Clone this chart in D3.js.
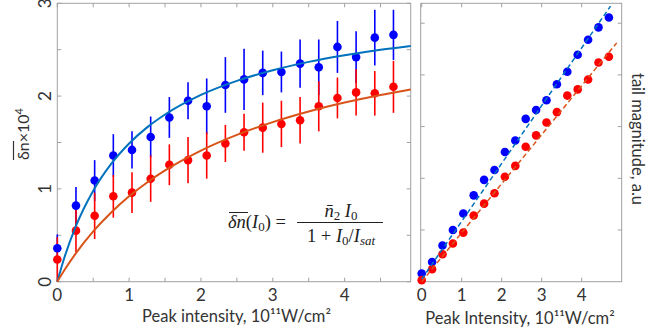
<!DOCTYPE html>
<html><head><meta charset="utf-8">
<script src="https://cdn.jsdelivr.net/npm/d3@7"></script>
<style>body{margin:0;background:#fff}svg{display:block}text{font-family:Lato,"Open Sans",sans-serif;fill:#333}</style>
</head><body><svg id="c" width="670" height="335"></svg>
<script>
// ---- data ----
const intensity = [0,0.26,0.52,0.78,1.04,1.30,1.56,1.82,2.08,2.34,2.60,2.86,3.12,3.38,3.64,3.90,4.16,4.42,4.68];
const blueDn = [0.36,0.82,1.09,1.36,1.42,1.56,1.77,1.95,1.89,2.12,2.18,2.25,2.26,2.35,2.31,2.53,2.42,2.63,2.66];
const blueErr = [0.15,0.20,0.22,0.23,0.20,0.22,0.22,0.20,0.30,0.30,0.33,0.24,0.22,0.26,0.30,0.28,0.28,0.30,0.27];
const redDn = [0.24,0.55,0.71,0.92,0.96,1.11,1.26,1.31,1.36,1.49,1.61,1.66,1.70,1.74,1.89,1.98,2.04,2.03,2.10];
const redErr = [0.24,0.23,0.25,0.23,0.22,0.25,0.22,0.25,0.25,0.20,0.20,0.27,0.25,0.25,0.27,0.22,0.25,0.24,0.28];
const fitX = [0,0.1,0.25,0.5,0.75,1,1.25,1.5,2,2.5,3,3.5,4,4.5,4.92];
const blueFit = [0,0.263,0.583,0.981,1.270,1.490,1.663,1.802,2.013,2.164,2.279,2.369,2.440,2.500,2.541];
const redFit = [0,0.126,0.297,0.542,0.746,0.920,1.069,1.199,1.413,1.582,1.720,1.834,1.930,2.012,2.072];
const blueTail = [0.16,0.38,0.70,1.00,1.32,1.67,1.97,2.16,2.51,2.73,3.15,3.32,3.51,3.82,4.06,4.39,4.68,4.92,5.11];
const redTail = [0.03,0.24,0.53,0.74,0.95,1.28,1.51,1.71,2.03,2.24,2.61,2.83,3.08,3.28,3.60,3.72,3.91,4.24,4.35];
const blueTailLine = [[0,0.05],[4.72,5.33]];
const redTailLine = [[0,0.0],[4.875,4.62]];
const leftXTicks = [0,1,2,3,4];
const leftYTicks = [0,1,2,3];
const rightXTicks = [0,1,2,3,4];

const BLUE = "#0000ff", RED = "#ff0000", BLUEFIT = "#0072bd", REDFIT = "#d95319";
const svg = d3.select("#c");
const FRAME = "#a0a0a0";

function frame(g, x, y, xt, yt) {
  const [x0,x1] = x.range(), [y0,y1] = y.range();
  g.append("rect").attr("x",x0).attr("y",y1).attr("width",x1-x0).attr("height",y0-y1)
   .attr("fill","none").attr("stroke",FRAME).attr("stroke-width",1);
  const L = 4;
  xt.forEach(t => {
    g.append("line").attr("x1",x(t)).attr("x2",x(t)).attr("y1",y0).attr("y2",y0-L).attr("stroke",FRAME);
    g.append("line").attr("x1",x(t)).attr("x2",x(t)).attr("y1",y1).attr("y2",y1+L).attr("stroke",FRAME);
  });
  yt.forEach(t => {
    g.append("line").attr("y1",y(t)).attr("y2",y(t)).attr("x1",x0).attr("x2",x0+L).attr("stroke",FRAME);
    g.append("line").attr("y1",y(t)).attr("y2",y(t)).attr("x1",x1).attr("x2",x1-L).attr("stroke",FRAME);
  });
}

// ---- left panel ----
const xL = d3.scaleLinear().domain([0,4.92]).range([57.3,410.7]);
const yL = d3.scaleLinear().domain([0,3]).range([281.7,3.3]);
const gL = svg.append("g");
frame(gL, xL, yL, d3.range(0,4.9,0.5), d3.range(0,3.01,0.5));

gL.selectAll(".xt").data(leftXTicks).join("text").attr("x",d=>xL(d)).attr("y",301)
  .attr("text-anchor","middle").attr("font-size",17).text(d=>d);
gL.selectAll(".yt").data(leftYTicks).join("text")
  .attr("transform",d=>`translate(51,${yL(d)}) rotate(-90)`)
  .attr("text-anchor","middle").attr("font-size",17).text(d=>d);

gL.append("text").attr("x",236.5).attr("y",322).attr("text-anchor","middle").attr("font-size",16.5)
  .text("Peak intensity, 10¹¹W/cm²");

const yl = gL.append("text").attr("transform","translate(29,134) rotate(-90)").attr("text-anchor","middle").attr("font-size",16);
yl.append("tspan").attr("id","dn").text("δn");
yl.append("tspan").text("×10");
yl.append("tspan").attr("font-size",11).attr("dy",-6).text("4");
gL.append("line").attr("x1",13.5).attr("x2",13.5).attr("y1",141).attr("y2",160).attr("stroke","#333").attr("stroke-width",1.2);

function series(g, x, y, xs, ys, es, col) {
  if (es) g.selectAll(null).data(xs).join("line")
    .attr("x1",(d)=>x(d)).attr("x2",(d)=>x(d))
    .attr("y1",(d,i)=>y(Math.max(0,ys[i]-es[i]))).attr("y2",(d,i)=>y(ys[i]+es[i]))
    .attr("stroke",col).attr("stroke-width",1.6);
}
function dots(g, x, y, xs, ys, col) {
  g.selectAll(null).data(xs).join("circle").attr("cx",d=>x(d)).attr("cy",(d,i)=>y(ys[i]))
    .attr("r",4.3).attr("fill",col);
}
series(gL,xL,yL,intensity,blueDn,blueErr,BLUE);
series(gL,xL,yL,intensity,redDn,redErr,RED);
dots(gL,xL,yL,intensity,blueDn,BLUE);
dots(gL,xL,yL,intensity,redDn,RED);

const fitLine = (ys) => d3.line().x(d=>xL(d)).y((d,i)=>yL(ys[i])).curve(d3.curveMonotoneX)(fitX);
gL.append("path").attr("d",fitLine(blueFit)).attr("fill","none").attr("stroke",BLUEFIT).attr("stroke-width",2);
gL.append("path").attr("d",fitLine(redFit)).attr("fill","none").attr("stroke",REDFIT).attr("stroke-width",2);

// formula
const fs = 18.5, ff = '"Liberation Serif","DejaVu Serif",serif';
const fg = gL.append("g").style("font-family",ff);
function mtext(x, y, parts, anchor) {
  const t = fg.append("text").attr("x",x).attr("y",y).attr("font-size",fs).attr("text-anchor",anchor||"start")
    .style("font-family",ff).style("fill","#222");
  parts.forEach(p => {
    const s = t.append("tspan").text(p.t);
    if (p.i) s.attr("font-style","italic");
    if (p.sub) s.attr("font-size",13).attr("dy",3);
    if (p.up) s.attr("dy",-3);
    if (p.dx) s.attr("dx",p.dx);
  });
  return t;
}
mtext(228, 228, [{t:"δn",i:1},{t:"(",},{t:"I",i:1},{t:"0",sub:1},{t:")",up:1},{t:" ="}]);
fg.append("line").attr("x1",229).attr("x2",248).attr("y1",212.5).attr("y2",212.5).attr("stroke","#222").attr("stroke-width",1);
fg.append("line").attr("x1",297).attr("x2",383).attr("y1",222.5).attr("y2",222.5).attr("stroke","#222").attr("stroke-width",1);
mtext(341, 216.5, [{t:"n̄",i:1},{t:"2",sub:1},{t:" I",i:1,up:1},{t:"0",sub:1}], "middle");
mtext(341, 242, [{t:"1 + "},{t:"I",i:1},{t:"0",sub:1},{t:"/",up:1},{t:"I",i:1},{t:"sat",i:1,sub:1}], "middle");

// ---- right panel ----
const xR = d3.scaleLinear().domain([-0.025,5.0]).range([420.7,621.7]);
const yR = d3.scaleLinear().domain([0,5.385]).range([281.7,3.3]);
const gR = svg.append("g");
frame(gR, xR, yR, rightXTicks, [1,2,3,4,5]);
gR.selectAll(".xt").data(rightXTicks).join("text").attr("x",d=>xR(d)).attr("y",301)
  .attr("text-anchor","middle").attr("font-size",17).text(d=>d);
gR.append("text").attr("x",520).attr("y",324).attr("text-anchor","middle").attr("font-size",16.5)
  .text("Peak Intensity, 10¹¹W/cm²");
gR.append("text").attr("transform","translate(632,139) rotate(90)").attr("text-anchor","middle").attr("font-size",16.5)
  .text("tail magnitude, a.u");
dots(gR,xR,yR,intensity,blueTail,BLUE);
dots(gR,xR,yR,intensity,redTail,RED);
const sl = d3.line().x(d=>xR(d[0])).y(d=>yR(d[1]));
gR.append("path").attr("d",sl(blueTailLine)).attr("stroke",BLUEFIT).attr("stroke-width",1.5).attr("stroke-dasharray","5,3").attr("fill","none");
gR.append("path").attr("d",sl(redTailLine)).attr("stroke",REDFIT).attr("stroke-width",1.5).attr("stroke-dasharray","5,3").attr("fill","none");
</script></body></html>
